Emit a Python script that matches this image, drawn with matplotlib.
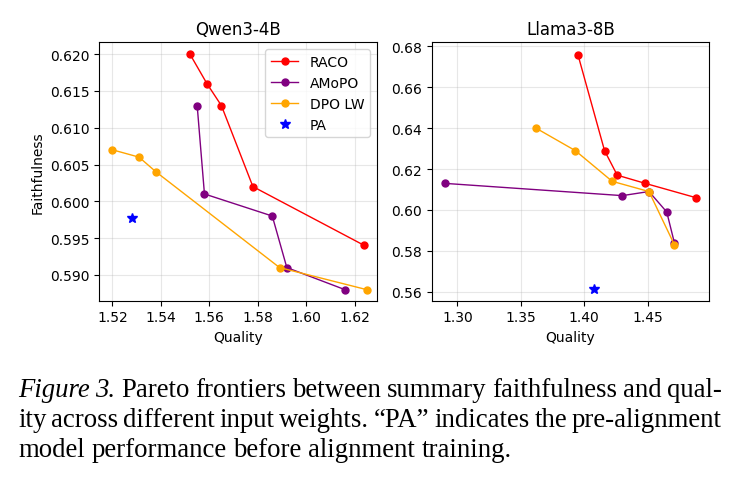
import matplotlib
matplotlib.use("Agg")
import matplotlib.pyplot as plt

# ---------------- data ----------------
# Qwen3-4B
qwen_raco_q = [1.552, 1.559, 1.565, 1.578, 1.624]
qwen_raco_f = [0.620, 0.616, 0.613, 0.602, 0.594]
qwen_amopo_q = [1.555, 1.558, 1.586, 1.592, 1.616]
qwen_amopo_f = [0.613, 0.601, 0.598, 0.591, 0.588]
qwen_dpolw_q = [1.520, 1.531, 1.538, 1.589, 1.625]
qwen_dpolw_f = [0.607, 0.606, 0.604, 0.591, 0.588]
qwen_pa_q = [1.5283]
qwen_pa_f = [0.5977]

# Llama3-8B
llama_raco_q = [1.395, 1.416, 1.426, 1.448, 1.488]
llama_raco_f = [0.676, 0.629, 0.617, 0.613, 0.606]
llama_amopo_q = [1.290, 1.430, 1.451, 1.465, 1.471]
llama_amopo_f = [0.613, 0.607, 0.609, 0.599, 0.584]
llama_dpolw_q = [1.362, 1.393, 1.422, 1.451, 1.471]
llama_dpolw_f = [0.640, 0.629, 0.614, 0.609, 0.583]
llama_pa_q = [1.408]
llama_pa_f = [0.5613]

caption_lines = [
    [("Figure", "italic"), ("3.", "italic"), ("Pareto", "normal"), ("frontiers", "normal"),
     ("between", "normal"), ("summary", "normal"), ("faithfulness", "normal"), ("and", "normal"),
     ("qual-", "normal")],
    [(w, "normal") for w in "ity across different input weights. \u201cPA\u201d indicates the pre-alignment".split()],
    [(w, "normal") for w in "model performance before alignment training.".split()],
]

# ---------------- figure ----------------
W, H = 739, 481
fig = plt.figure(figsize=(W / 100, H / 100), dpi=100)

ax1 = fig.add_axes([99.3 / W, 1 - 301.7 / H, 277.4 / W, 258.4 / H])
ax2 = fig.add_axes([431.7 / W, 1 - 301.7 / H, 277.3 / W, 258.4 / H])

def draw_panel(ax, raco, amopo, dpolw, pa):
    ax.plot(raco[0], raco[1], "-o", color="red", lw=1.0, ms=5, label="RACO")
    ax.plot(amopo[0], amopo[1], "-o", color="purple", lw=1.0, ms=5, label="AMoPO")
    ax.plot(dpolw[0], dpolw[1], "-o", color="orange", lw=1.0, ms=5, label="DPO LW")
    ax.plot(pa[0], pa[1], "*", color="blue", ms=7, ls="none", label="PA")
    ax.grid(True, alpha=0.3)
    ax.set_xlabel("Quality", fontsize=10)
    ax.tick_params(labelsize=10)

draw_panel(ax1, (qwen_raco_q, qwen_raco_f), (qwen_amopo_q, qwen_amopo_f),
           (qwen_dpolw_q, qwen_dpolw_f), (qwen_pa_q, qwen_pa_f))
ax1.set_xlim(1.5146, 1.6291)
ax1.set_ylim(0.5865, 0.6216)
ax1.set_xticks([1.52, 1.54, 1.56, 1.58, 1.60, 1.62])
ax1.set_yticks([0.590, 0.595, 0.600, 0.605, 0.610, 0.615, 0.620])
ax1.set_yticklabels([f"{v:.3f}" for v in ax1.get_yticks()])
ax1.set_ylabel("Faithfulness", fontsize=10)
ax1.set_title("Qwen3-4B", fontsize=12)
ax1.legend(loc="upper right", fontsize=10)

draw_panel(ax2, (llama_raco_q, llama_raco_f), (llama_amopo_q, llama_amopo_f),
           (llama_dpolw_q, llama_dpolw_f), (llama_pa_q, llama_pa_f))
ax2.set_xlim(1.2798, 1.4983)
ax2.set_ylim(0.5556, 0.682)
ax2.set_xticks([1.30, 1.35, 1.40, 1.45])
ax2.set_yticks([0.56, 0.58, 0.60, 0.62, 0.64, 0.66, 0.68])
ax2.set_title("Llama3-8B", fontsize=12)

# ---------------- caption (justified) ----------------
cap_size = 19.3
left_px, right_px = 18, 722
baselines = [397, 427, 457]
renderer = fig.canvas.get_renderer()
for li, words in enumerate(caption_lines):
    texts = []
    for w, style in words:
        t = fig.text(0, 1 - baselines[li] / H, w, fontsize=cap_size, family="Liberation Serif",
                     style=style, va="baseline", ha="left")
        texts.append(t)
    widths = [t.get_window_extent(renderer).width for t in texts]
    if li < len(caption_lines) - 1:
        gap = (right_px - left_px - sum(widths)) / (len(texts) - 1)
    else:
        gap = 0.25 * cap_size * 100 / 72
    x = left_px
    for t, wd in zip(texts, widths):
        t.set_x(x / W)
        x += wd + gap

fig.savefig("out.png", dpi=100)
